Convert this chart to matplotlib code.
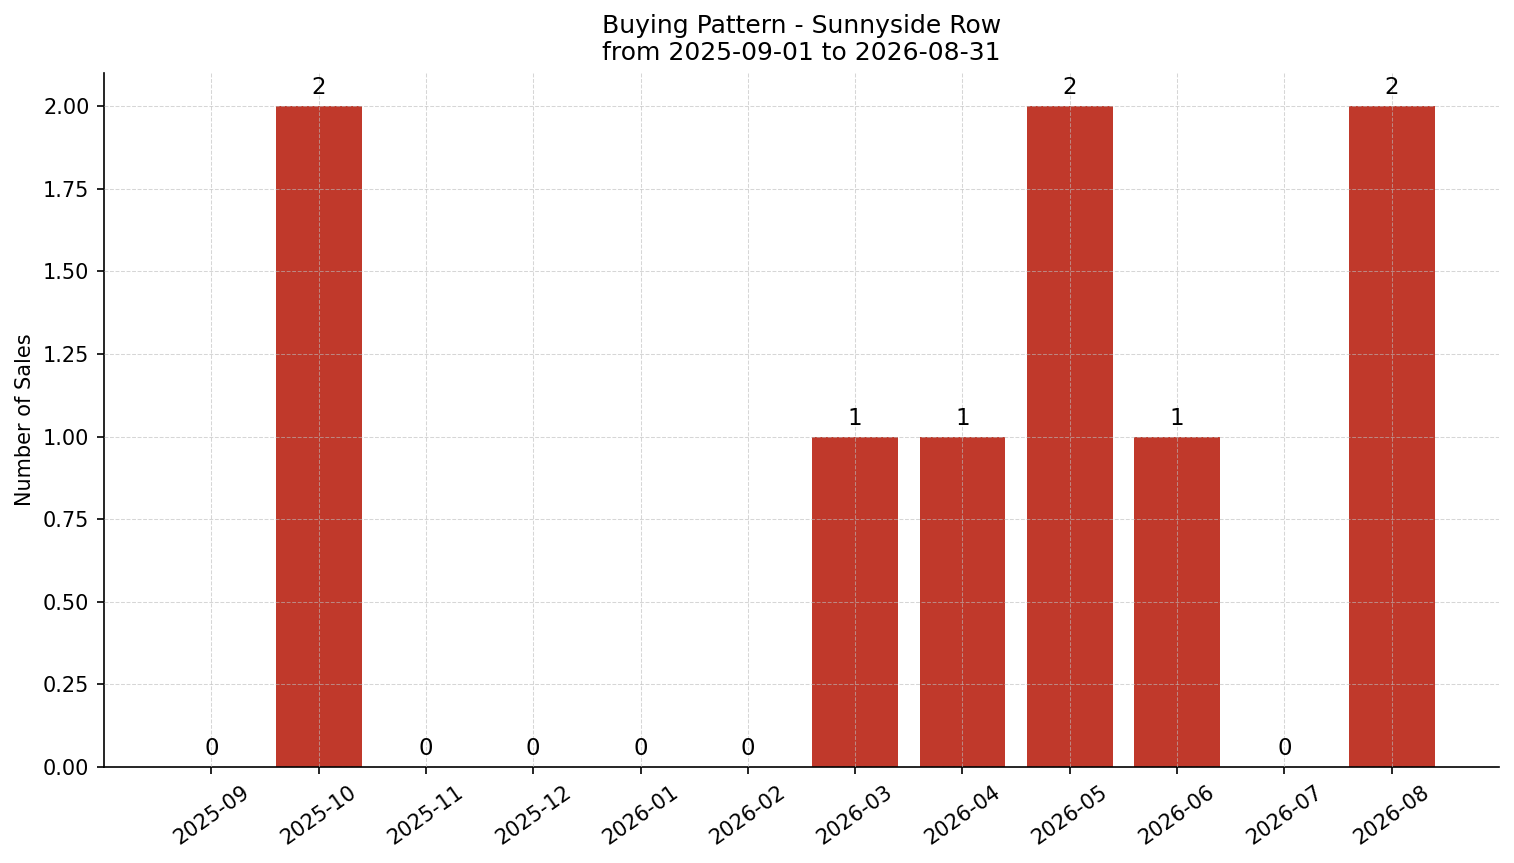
import matplotlib
matplotlib.use("Agg")
import numpy as np
import matplotlib.pyplot as plt

months = ["2025-09", "2025-10", "2025-11", "2025-12", "2026-01", "2026-02",
          "2026-03", "2026-04", "2026-05", "2026-06", "2026-07", "2026-08"]
sales = [0, 2, 0, 0, 0, 0, 1, 1, 2, 1, 0, 2]

fig, ax = plt.subplots(figsize=(1514 / 150, 863 / 150), dpi=150)
x = np.arange(len(months))
bars = ax.bar(x, sales, width=0.8, color="#c0392b", zorder=2)
for xi, v in zip(x, sales):
    ax.text(xi, v + 0.02, str(v), ha="center", va="bottom", fontsize=11)

ax.set_xticks(x)
ax.set_xticklabels(months, rotation=35)
ax.set_xlim(-1, 12)
ax.set_ylim(0, 2.1)
ax.set_ylabel("Number of Sales")
ax.set_title("Buying Pattern - Sunnyside Row\nfrom 2025-09-01 to 2026-08-31", fontsize=12)
ax.grid(True, linestyle="--", linewidth=0.5, color="#bbbbbb", alpha=0.6, zorder=3)
ax.set_axisbelow(False)
ax.spines["top"].set_visible(False)
ax.spines["right"].set_visible(False)

fig.subplots_adjust(left=104 / 1514, right=1499 / 1514, top=1 - 73 / 863, bottom=1 - 767 / 863)
fig.savefig("out.png", dpi=150)
